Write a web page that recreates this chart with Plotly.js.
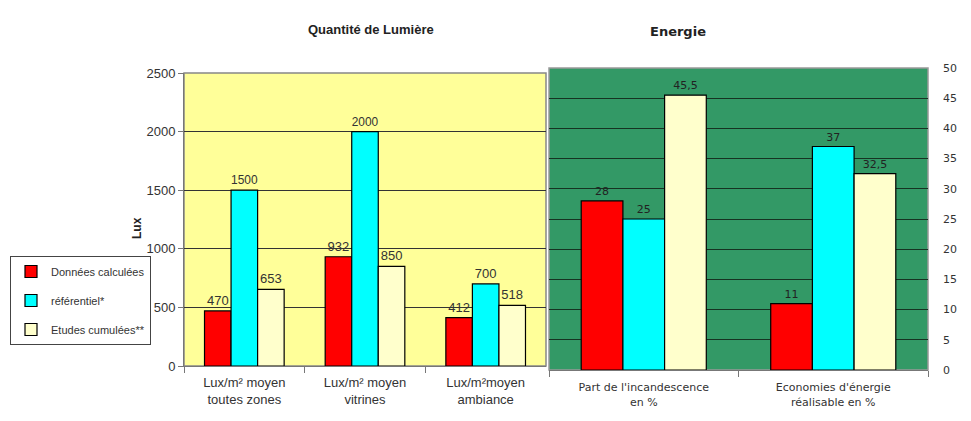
<!DOCTYPE html>
<html><head><meta charset="utf-8">
<script src="https://cdn.plot.ly/plotly-3.0.1.min.js"></script>
<style>html,body{margin:0;padding:0;background:#fff}#c{width:971px;height:421px}</style>
</head><body><div id="c"></div>
<script>
const seriesNames = ["Données calculées", "référentiel*", "Etudes cumulées**"];
const seriesColors = ["#FF0000", "#00FFFF", "#FFFFCC"];
const lumCategories = ["Lux/m² moyen<br>toutes zones", "Lux/m² moyen<br>vitrines", "Lux/m²moyen<br>ambiance"];
const lumCalc = [470, 932, 412];
const lumRef = [1500, 2000, 700];
const lumEtudes = [653, 850, 518];
const enCategories = ["Part de l'incandescence<br>en %", "Economies d'énergie<br>réalisable en %"];
const enCalc = [28, 11];
const enRef = [25, 37];
const enEtudes = [45.5, 32.5];

const fmt = v => String(v).replace('.', ',');
const lumSeries = [lumCalc, lumRef, lumEtudes];
const enSeries = [enCalc, enRef, enEtudes];
const traces = [];
lumSeries.forEach((vals, i) => {
  traces.push({
    type: 'bar', x: lumCategories, y: vals, name: seriesNames[i],
    xaxis: 'x', yaxis: 'y', legendgroup: 'g' + i,
    marker: {color: seriesColors[i], line: {color: '#000', width: 1.2}},
    text: vals.map(fmt), textposition: 'outside', cliponaxis: false,
    textfont: {family: 'Liberation Sans, Arial', size: 13, color: '#333'},
    hoverinfo: 'none'
  });
});
enSeries.forEach((vals, i) => {
  traces.push({
    type: 'bar', x: enCategories, y: vals, name: seriesNames[i],
    xaxis: 'x2', yaxis: 'y2', showlegend: false, legendgroup: 'g' + i,
    marker: {color: seriesColors[i], line: {color: '#000', width: 1.2}},
    text: vals.map(fmt), textposition: 'outside', cliponaxis: false,
    textfont: {family: 'DejaVu Sans, Verdana', size: 11, color: '#222'},
    hoverinfo: 'none'
  });
});

const layout = {
  width: 971, height: 421,
  margin: {l: 0, r: 0, t: 0, b: 0},
  paper_bgcolor: '#fff', plot_bgcolor: 'rgba(0,0,0,0)',
  barmode: 'group',
  showlegend: true,
  legend: {
    x: 10/971, y: 1 - 256/421, xanchor: 'left', yanchor: 'top',
    bordercolor: '#444', borderwidth: 1, bgcolor: '#fff',
    traceorder: 'grouped', tracegroupgap: 10,
    font: {family: 'Liberation Sans, Arial', size: 11, color: '#333'},
    itemwidth: 30
  },
  xaxis: {
    domain: [184/971, 546/971], anchor: 'y',
    type: 'category', tickson: 'boundaries', ticks: 'outside', ticklen: 6, tickcolor: '#777',
    showline: true, linecolor: '#777', linewidth: 1,
    tickfont: {family: 'Liberation Sans, Arial', size: 13, color: '#333'},
    ticklabelstandoff: 4,
    showgrid: false, fixedrange: true
  },
  yaxis: {
    domain: [1 - 366/421, 1 - 73/421], anchor: 'x',
    range: [0, 2500], dtick: 500, ticks: 'outside', ticklen: 5, tickcolor: '#777',
    showline: true, linecolor: '#777', mirror: false,
    showgrid: true, gridcolor: '#333', gridwidth: 1, zeroline: false,
    tickfont: {family: 'Liberation Sans, Arial', size: 13, color: '#333'},
    fixedrange: true
  },
  xaxis2: {
    domain: [549/971, 928/971], anchor: 'y2',
    type: 'category', tickson: 'boundaries', ticks: 'outside', ticklen: 6, tickcolor: '#777',
    showline: true, linecolor: '#777', linewidth: 1,
    tickfont: {family: 'DejaVu Sans, Verdana', size: 11, color: '#333'},
    ticklabelstandoff: 7,
    showgrid: false, fixedrange: true
  },
  yaxis2: {
    domain: [1 - 370/421, 1 - 68/421], anchor: 'x2', side: 'right',
    range: [0, 50], dtick: 5, ticks: '', ticklen: 0,
    showline: false, showgrid: true, gridcolor: '#163322', gridwidth: 1, zeroline: false,
    tickfont: {family: 'DejaVu Sans, Verdana', size: 11, color: '#333'},
    ticklabelstandoff: 14,
    fixedrange: true
  },
  shapes: [
    {type: 'rect', xref: 'x domain', yref: 'y domain', x0: 0, x1: 1, y0: 0, y1: 1,
     fillcolor: '#FFFF99', line: {color: '#888', width: 1.5}, layer: 'below'},
    {type: 'rect', xref: 'x2 domain', yref: 'y2 domain', x0: 0, x1: 1, y0: 0, y1: 1,
     fillcolor: '#339966', line: {color: '#999', width: 1.5}, layer: 'below'}
  ],
  annotations: [
    {text: '<b>Quantité de Lumière</b>', xref: 'paper', yref: 'paper', x: 306/971, y: 1 - 20/421,
     showarrow: false, font: {family: 'Liberation Sans, Arial', size: 13, color: '#222'}},
    {text: '<b>Energie</b>', xref: 'paper', yref: 'paper', x: 708/971, y: 1 - 22/421,
     showarrow: false, font: {family: 'DejaVu Sans, Verdana', size: 13, color: '#222'}},
    {text: '<b>Lux</b>', xref: 'paper', yref: 'paper', x: 128/971, y: 1 - 228/421,
     showarrow: false, textangle: -90, font: {family: 'Liberation Sans, Arial', size: 12, color: '#222'}}
  ],
  bargap: 0.34
};

Plotly.newPlot('c', traces, layout, {staticPlot: true, displayModeBar: false});
</script>
</body></html>
